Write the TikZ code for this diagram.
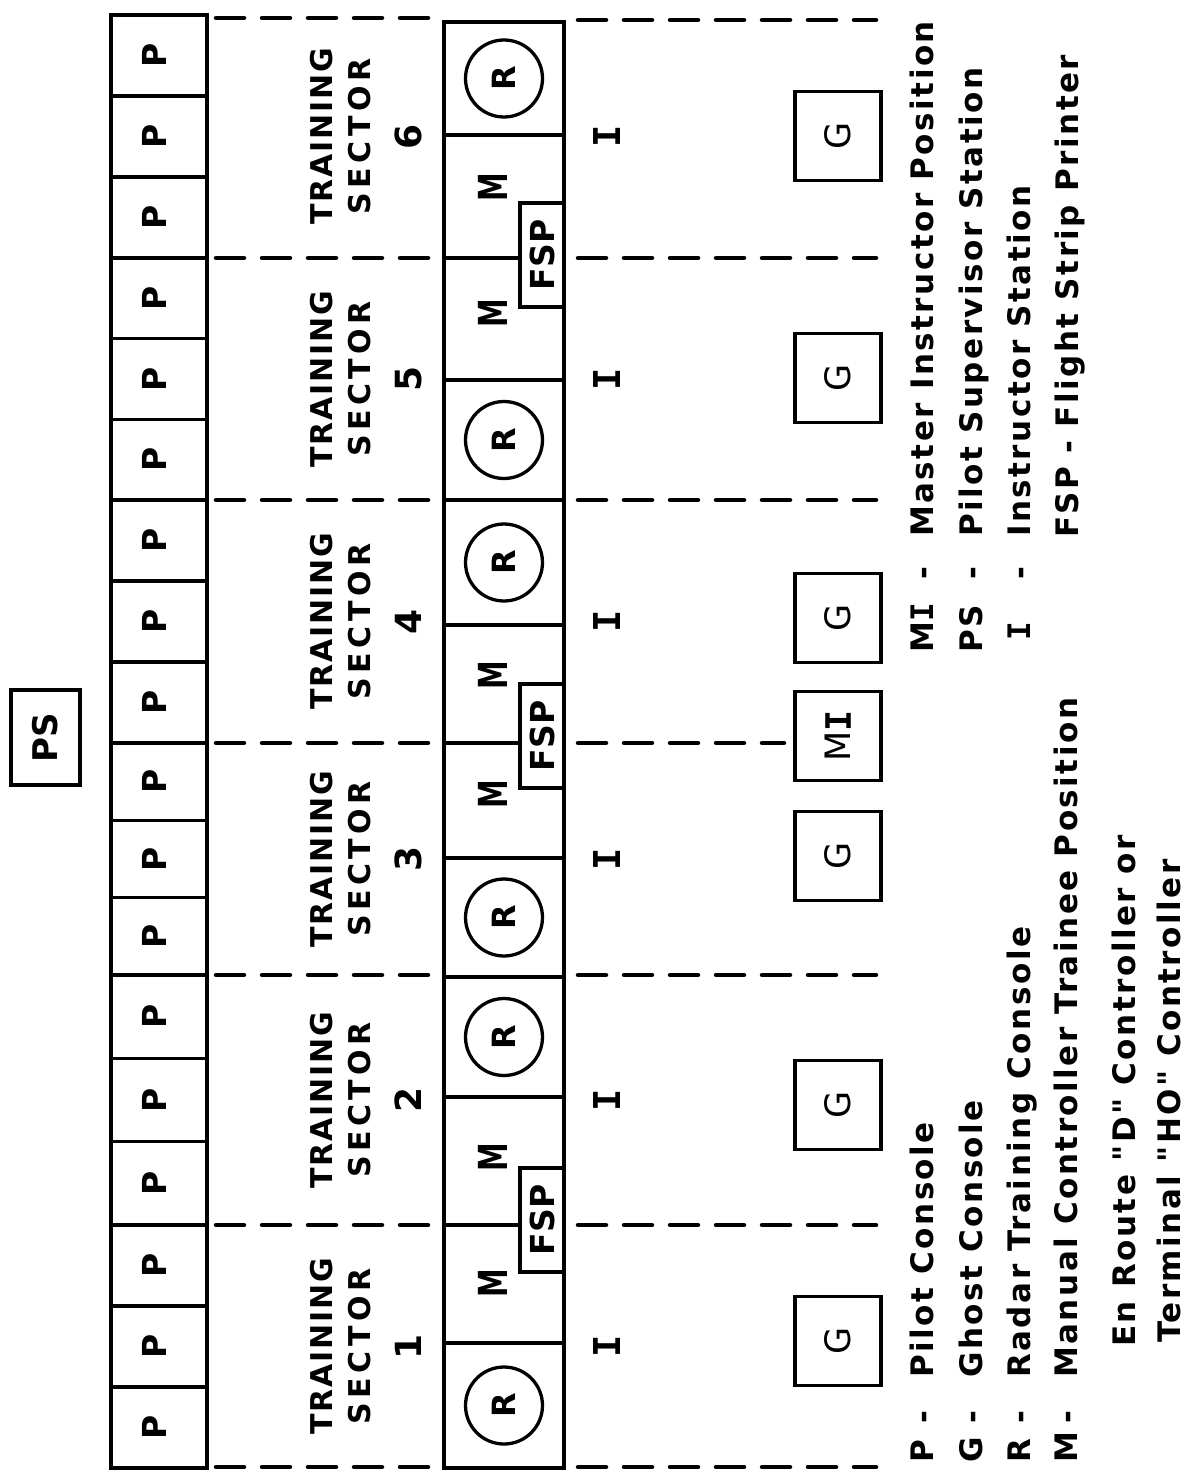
\documentclass[tikz,border=0pt]{standalone}
\usepackage{fontspec}
\usepackage{graphicx}
\setmainfont{DejaVu Sans}
\newfontfamily\legfont[LetterSpace=8]{DejaVu Sans}
\newfontfamily\trfont[LetterSpace=6]{DejaVu Sans}
\newfontfamily\scfont[LetterSpace=15]{DejaVu Sans}
\newfontfamily\slabfont{DejaVu Sans Mono}
\newcommand{\slabI}{{\slabfont\bfseries I}}
\begin{document}
\begin{tikzpicture}[x=1pt,y=-1pt,
  ln/.style={line width=3.5pt},
  dline/.style={line width=4.5pt, line cap=round, dash pattern=on 28pt off 18pt},
  pcell/.style={draw, ln, rotate=90, inner sep=0pt, minimum height=96pt,
     text depth=10pt, font=\bfseries\fontsize{33}{40}\selectfont},
  rmcell/.style={draw, ln, inner sep=0pt, minimum width=120pt},
  rcirc/.style={draw, circle, line width=3.3pt, inner sep=0pt, minimum size=77pt, rotate=90,
     font=\bfseries\fontsize{32}{38}\selectfont},
  fspbox/.style={draw, ln, fill=white, rotate=90, inner sep=0pt, minimum width=104pt,
     minimum height=44pt, font=\bfseries\fontsize{33}{40}\selectfont},
  gbox/.style={draw, ln, rotate=90, inner sep=0pt, minimum width=89pt, minimum height=86pt,
     font=\fontsize{35}{42}\selectfont},
  mlab/.style={rotate=90, anchor=base, inner sep=0pt, font=\bfseries\fontsize{40}{48}\selectfont},
  ilab/.style={rotate=90, anchor=base, inner sep=0pt, font=\bfseries\fontsize{37}{44}\selectfont},
  trlab/.style={rotate=90, anchor=base, inner sep=0pt, font=\trfont\bfseries\fontsize{30}{36}\selectfont},
  sclab/.style={rotate=90, anchor=base, inner sep=0pt, font=\scfont\bfseries\fontsize{30}{36}\selectfont},
  numlab/.style={rotate=90, anchor=base, inner sep=0pt, font=\bfseries\fontsize{36}{42}\selectfont},
  leg/.style={rotate=90, inner sep=0pt, font=\legfont\bfseries\fontsize{31}{37}\selectfont},
]
\fill[white] (0,0) rectangle (1197,1479);
\useasboundingbox (0,0) rectangle (1197,1479);

% pilot consoles, sector titles, instructor stations
\foreach \a/\b [count=\s] in {15/258,258/500,500/743,743/975,975/1225,1225/1468}{
  \pgfmathsetmacro{\hh}{(\b-\a)/3}
  \foreach \k in {0,1,2}{
    \pgfmathsetmacro{\cy}{\a+(\k+0.5)*\hh}
    \node[pcell, minimum width=\hh pt] (p\s-\k) at (159,\cy) {P};
  }
  \pgfmathsetmacro{\ym}{(\a+\b)/2}
  \pgfmathtruncatemacro{\num}{7-\s}
  \node[trlab] (tr\num) at (332,\ym) {TRAINING};
  \node[sclab] (sc\num) at (370,\ym) {SECTOR};
  \node[numlab] (no\num) at (421,\ym) {\num};
  \node[ilab] (i\num) at (620,\ym) {\slabI};
}

% dashed sector boundaries
\foreach \y in {18,258,500,743,975,1225,1467} \draw[dline] (216,\y) -- (430,\y);
\foreach \y in {20,258,500,975,1225,1467} \draw[dline] (578,\y) -- (876,\y);
\draw[dline] (578,743) -- (784,743);

% radar / manual column
\foreach \a/\b [count=\i] in {22/135,135/258,258/380,380/500,500/625,625/743,743/858,858/977,977/1097,1097/1225,1225/1343,1343/1468}
  \node[rmcell, minimum height={(\b-\a)*1pt}] (rm\i) at (504,{(\a+\b)/2}) {};
\foreach \c/\n in {1/6,4/5,5/4,8/3,9/2,12/1} \node[rcirc] (r\n) at (rm\c) {R};
\foreach \y [count=\j] in {187,313,675,794,1157,1283} \node[mlab] (m\j) at (507,\y) {\scalebox{0.72}[1]{M}};
\foreach \y [count=\j] in {255,736,1220} \node[fspbox] (fsp\j) at (542,\y) {FSP};

% ghost consoles, master instructor, pilot supervisor
\foreach \y [count=\j] in {136,378,618,856,1105,1341} \node[gbox] (g\j) at (838,\y) {G};
\node[gbox] (mi) at (838,736) {M\slabI};
\node[draw, ln, rotate=90, inner sep=0pt, minimum width=95pt, minimum height=69pt,
      font=\bfseries\fontsize{34}{40}\selectfont] (ps) at (45.5,737.5) {PS};

% legend, left group
\node[leg, anchor=base west] (lP) at (933,1463) {P};
\node[leg, anchor=base] (lPd) at (933,1417) {-};
\node[leg, anchor=base west] (lPt) at (933,1378) {Pilot Console};
\node[leg, anchor=base west] (lG) at (982,1463) {G};
\node[leg, anchor=base] (lGd) at (982,1417) {-};
\node[leg, anchor=base west] (lGt) at (982,1378) {Ghost Console};
\node[leg, anchor=base west] (lR) at (1030,1463) {R};
\node[leg, anchor=base] (lRd) at (1030,1417) {-};
\node[leg, anchor=base west] (lRt) at (1030,1378) {Radar Training Console};
\node[leg, anchor=base west] (lM) at (1077,1463) {M};
\node[leg, anchor=base] (lMd) at (1077,1417) {-};
\node[leg, anchor=base west] (lMt) at (1077,1378) {Manual Controller Trainee Position};
\node[leg, anchor=base west] (lEn) at (1135,1347) {En Route "D" Controller or};
\node[leg, anchor=base west] (lTe) at (1180,1343) {Terminal "HO" Controller};

% legend, right group
\node[leg, anchor=base west] (lMI) at (933,653) {M\slabI};
\node[leg, anchor=base] (lMId) at (933,573) {-};
\node[leg, anchor=base west] (lMIt) at (933,537) {Master Instructor Position};
\node[leg, anchor=base west] (lPS) at (982,653) {PS};
\node[leg, anchor=base] (lPSd) at (982,573) {-};
\node[leg, anchor=base west] (lPSt) at (982,537) {Pilot Supervisor Station};
\node[leg, anchor=base] (lI) at (1030,631) {\slabI};
\node[leg, anchor=base] (lId) at (1030,573) {-};
\node[leg, anchor=base west] (lIt) at (1030,537) {Instructor Station};
\node[leg, anchor=base west] (lF) at (1078,538) {FSP - Flight Strip Printer};
\end{tikzpicture}
\end{document}
